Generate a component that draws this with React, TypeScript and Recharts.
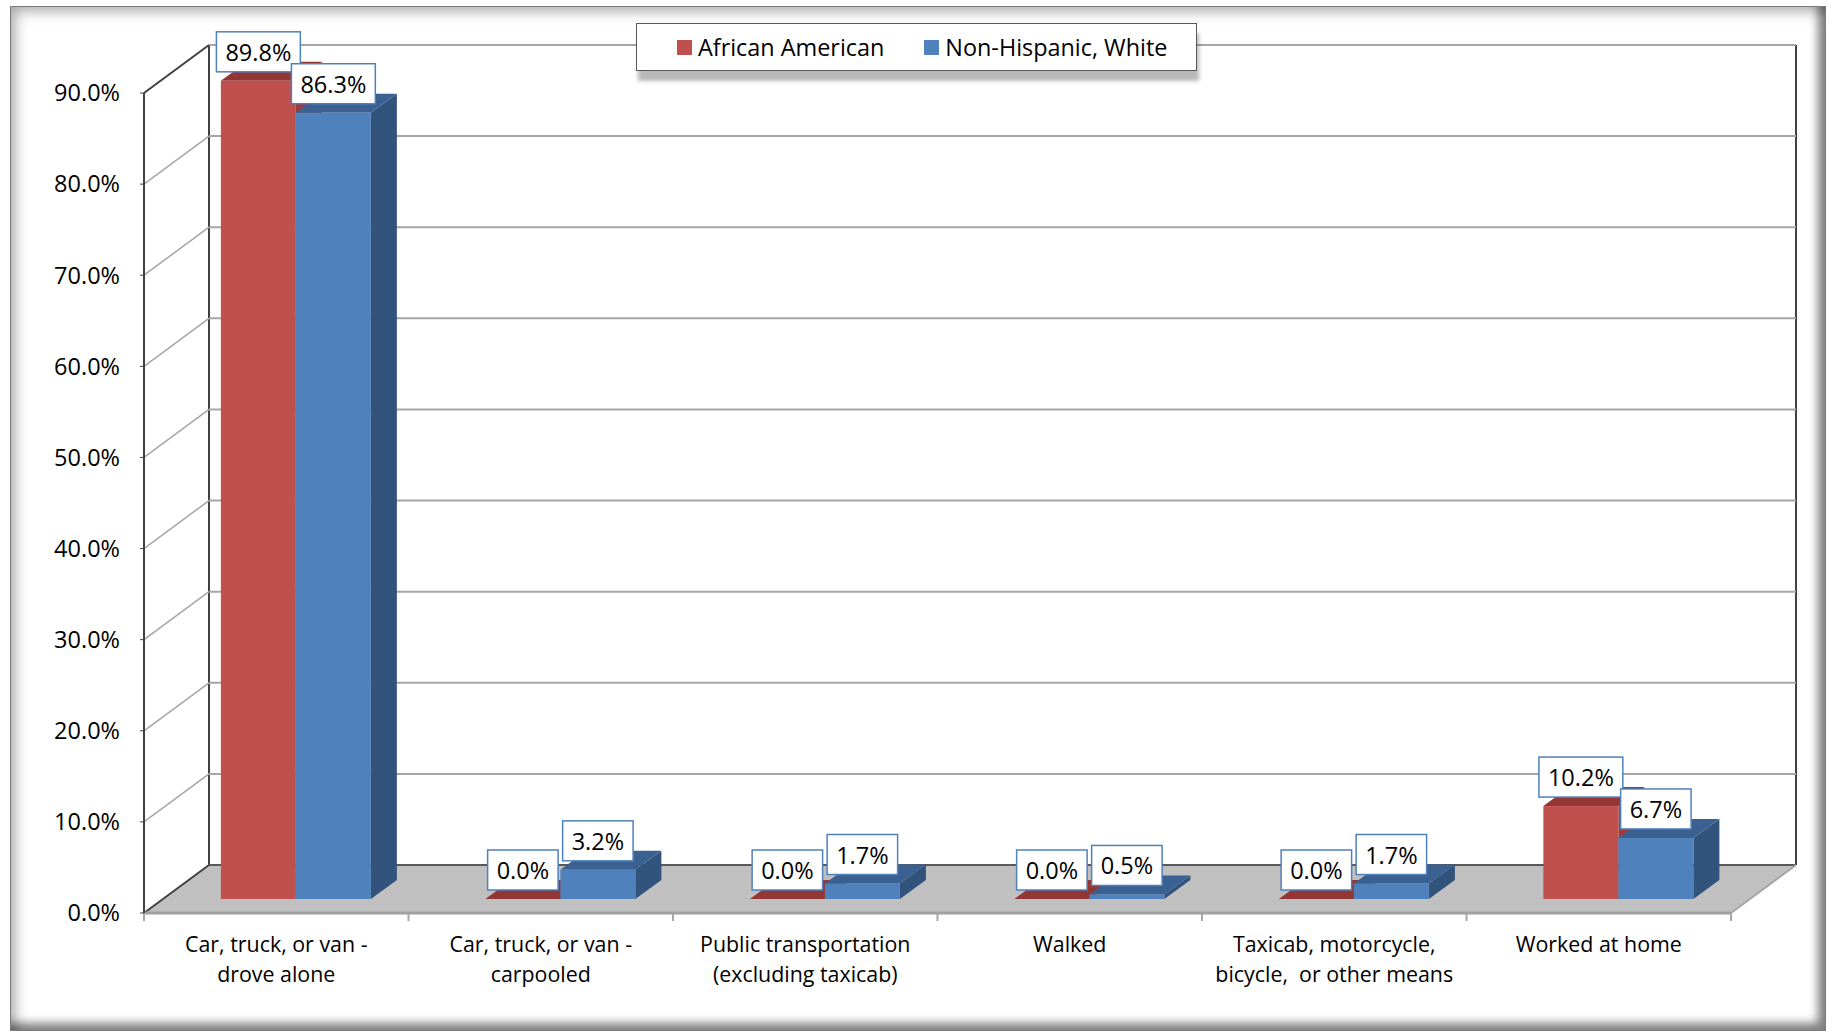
import React from "react";
import { Bar, BarChart, CartesianGrid, LabelList, XAxis, YAxis } from "recharts";

const categories = [
  "Car, truck, or van -\ndrove alone",
  "Car, truck, or van -\ncarpooled",
  "Public transportation\n(excluding taxicab)",
  "Walked",
  "Taxicab, motorcycle,\nbicycle,  or other means",
  "Worked at home",
];
const africanAmerican = [89.8, 0.0, 0.0, 0.0, 0.0, 10.2];
const nonHispanicWhite = [86.3, 3.2, 1.7, 0.5, 1.7, 6.7];
const yTicks = [0, 10, 20, 30, 40, 50, 60, 70, 80, 90];
const seriesNames = ["African American", "Non-Hispanic, White"];

const data = categories.map((category, i) => ({
  category,
  african: africanAmerican[i],
  white: nonHispanicWhite[i],
}));

const FONT = '"Open Sans", "Liberation Sans", sans-serif';
// offsets of the fake 3d box
const WALL = { dx: 65, dy: -48 };
const BAR_SHIFT = { dx: 20, dy: -14 };
const BAR_DEPTH = { dx: 26, dy: -19 };
const GRID = "#a6a6a6";
const EDGE = "#404040";
const FLOOR = "#c0c0c0";

const RED = { front: "#c0504d", top: "#943734", side: "#9b3d3a" };
const BLUE = { front: "#4f81bd", top: "#3b6192", side: "#31537c" };

function box3d(c: { front: string; top: string; side: string }) {
  return (props: any) => {
    const { x, y, width, height } = props;
    if (x == null || width == null) return <g />;
    const h = Math.max(0, height || 0);
    const fx = x + BAR_SHIFT.dx;
    const fy = y + BAR_SHIFT.dy;
    const { dx, dy } = BAR_DEPTH;
    const r = fx + width;
    const b = fy + h;
    return (
      <g>
        <polygon points={`${r},${fy} ${r + dx},${fy + dy} ${r + dx},${b + dy} ${r},${b}`} fill={c.side} />
        <polygon points={`${fx},${fy} ${r},${fy} ${r + dx},${fy + dy} ${fx + dx},${fy + dy}`} fill={c.top} />
        <rect x={fx} y={fy} width={width} height={h} fill={c.front} />
      </g>
    );
  };
}

const charW = (ch: string) => (ch === "." ? 0.266 : ch === "%" ? 0.823 : 0.572);

function ValueBox(props: any) {
  const vb = props.viewBox && props.viewBox.width != null ? props.viewBox : props;
  const { x, y, width } = vb;
  if (x == null) return null;
  const text = `${Number(props.value).toFixed(1)}%`;
  const fs = 23.5;
  const w = [...text].reduce((s, ch) => s + charW(ch), 0) * fs + 18;
  const h = 40;
  const cx = x + width / 2 + BAR_SHIFT.dx;
  const bottom = y + BAR_SHIFT.dy - 9;
  return (
    <g>
      <rect x={cx - w / 2} y={bottom - h} width={w} height={h} fill="#fff" stroke="#4f81bd" strokeWidth={1.5} />
      <text x={cx} y={bottom - h / 2} textAnchor="middle" dominantBaseline="central" fontFamily={FONT} fontSize={fs} fill="#000">
        {text}
      </text>
    </g>
  );
}

function wallLine(props: any) {
  const { x1, y1, x2, y, height, index } = props;
  const { dx, dy } = WALL;
  const isFloor = typeof height === "number" ? Math.abs(y1 - (y + height)) < 1 : index === 0;
  const isTop = typeof y === "number" ? Math.abs(y1 - y) < 1 : index === yTicks.length - 1;
  if (isFloor) {
    const top = typeof y === "number" ? y : Math.min(...(props.horizontalPoints || [y1]));
    const n = categories.length;
    return (
      <g key={`wall-${index}`}>
        <polygon points={`${x1},${y1} ${x2},${y1} ${x2 + dx},${y1 + dy} ${x1 + dx},${y1 + dy}`} fill={FLOOR} />
        <line x1={x1 + dx} y1={y1 + dy} x2={x1 + dx} y2={top + dy} stroke={EDGE} strokeWidth={2} />
        <line x1={x2 + dx} y1={y1 + dy} x2={x2 + dx} y2={top + dy} stroke={EDGE} strokeWidth={2} />
        <line x1={x1 + dx} y1={y1 + dy} x2={x2 + dx} y2={y1 + dy} stroke="#595959" strokeWidth={2} />
        <line x1={x1} y1={y1} x2={x1 + dx} y2={y1 + dy} stroke={EDGE} strokeWidth={2} />
        <line x1={x2} y1={y1} x2={x2 + dx} y2={y1 + dy} stroke={GRID} strokeWidth={2} />
        {Array.from({ length: n + 1 }, (_, i) => {
          const xi = x1 + (i * (x2 - x1)) / n;
          return <line key={i} x1={xi} y1={y1} x2={xi} y2={y1 + 8} stroke={GRID} strokeWidth={2} />;
        })}
      </g>
    );
  }
  return (
    <g key={`wall-${index}`}>
      <line x1={x1 + dx} y1={y1 + dy} x2={x2 + dx} y2={y1 + dy} stroke={GRID} strokeWidth={2} />
      <line x1={x1} y1={y1} x2={x1 + dx} y2={y1 + dy} stroke={isTop ? EDGE : GRID} strokeWidth={isTop ? 2 : 1.5} />
    </g>
  );
}

function CategoryTick(props: any) {
  const { x, y, payload } = props;
  const lines = String(payload.value).split("\n");
  return (
    <g>
      {lines.map((l, i) => (
        <text
          key={i}
          x={x}
          y={y + 30 + i * 30.5}
          textAnchor="middle"
          dominantBaseline="central"
          fontFamily={FONT}
          fontSize={21.4}
          fill="#000"
          style={{ whiteSpace: "pre" }}
        >
          {l}
        </text>
      ))}
    </g>
  );
}

export default function App() {
  return (
    <div style={{ position: "absolute", left: 0, top: 0, width: 1828, height: 1031, background: "#fff", overflow: "hidden" }}>
      <div
        style={{
          position: "absolute",
          left: 10,
          top: 6,
          width: 1816,
          height: 1025,
          boxSizing: "border-box",
          border: "1px solid #7a7a7a",
          boxShadow: "inset 10px 10px 14px -6px rgba(0,0,0,0.35), inset -12px -12px 10px -5px rgba(0,0,0,0.5)",
        }}
      />
      <div style={{ position: "absolute", left: 0, top: 0 }}>
        <BarChart
          width={1828}
          height={1031}
          data={data}
          margin={{ top: 93, right: 97, bottom: 0, left: 0 }}
          barCategoryGap="21.5%"
          barGap={0}
        >
          <CartesianGrid vertical={false} horizontal={wallLine} />
          <XAxis
            dataKey="category"
            height={118}
            interval={0}
            tickLine={false}
            tickSize={0}
            tickMargin={0}
            axisLine={{ stroke: "#a0a0a0", strokeWidth: 3 }}
            tick={CategoryTick}
          />
          <YAxis
            type="number"
            domain={[0, 90]}
            ticks={yTicks}
            interval={0}
            width={144}
            tickSize={4}
            tickMargin={20}
            tickFormatter={(v: number) => `${v.toFixed(1)}%`}
            axisLine={{ stroke: EDGE, strokeWidth: 2 }}
            tickLine={{ stroke: EDGE }}
            tick={{ fill: "#000", fontSize: 23.5, fontFamily: FONT }}
          />
          <Bar dataKey="african" name={seriesNames[0]} fill={RED.front} shape={box3d(RED)} isAnimationActive={false}>
            <LabelList dataKey="african" content={ValueBox} />
          </Bar>
          <Bar dataKey="white" name={seriesNames[1]} fill={BLUE.front} shape={box3d(BLUE)} isAnimationActive={false}>
            <LabelList dataKey="white" content={ValueBox} />
          </Bar>
        </BarChart>
      </div>
      <div
        style={{
          position: "absolute",
          left: 636,
          top: 23,
          width: 561,
          height: 48,
          boxSizing: "border-box",
          border: "1.5px solid #595959",
          background: "#fff",
          boxShadow: "2px 10px 4px rgba(0,0,0,0.28)",
          display: "flex",
          alignItems: "center",
          paddingLeft: 40,
          fontFamily: FONT,
          fontSize: 23.4,
          color: "#000",
          whiteSpace: "nowrap",
        }}
      >
        <span style={{ width: 15, height: 15, background: RED.front, marginRight: 6, display: "inline-block" }} />
        <span>{seriesNames[0]}</span>
        <span style={{ width: 15, height: 15, background: BLUE.front, marginLeft: 40, marginRight: 6, display: "inline-block" }} />
        <span>{seriesNames[1]}</span>
      </div>
    </div>
  );
}
